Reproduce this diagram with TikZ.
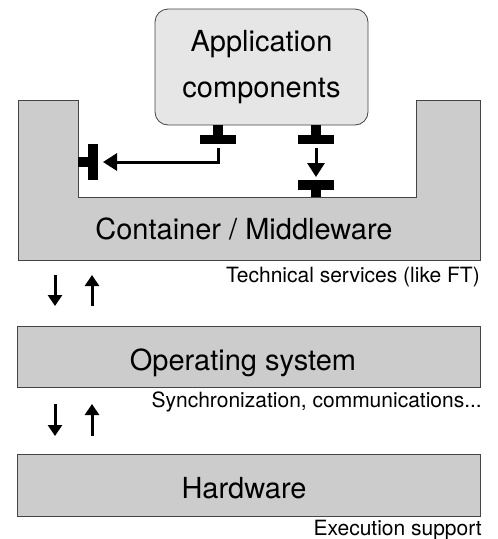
\documentclass[tikz,border=0pt]{standalone}
\usepackage{fontspec}
\setmainfont{TeX Gyre Heros}
\usetikzlibrary{arrows.meta}
\definecolor{layergray}{HTML}{CCCCCC}
\definecolor{appgray}{HTML}{E6E6E6}
\definecolor{rimgray}{HTML}{444444}
\tikzset{
  layer/.style={draw=rimgray, fill=layergray, line width=0.8pt, minimum width=463pt, inner sep=0pt},
  bigtext/.style={font=\fontsize{29}{46}\selectfont},
  smalltext/.style={font=\fontsize{21}{25}\selectfont, anchor=base east, inner sep=0pt},
  portbar/.style={fill=black, inner sep=0pt, outer sep=0pt},
  call/.style={line width=3pt, -{Triangle[length=14pt,width=17pt]}},
  updown/.style={line width=3pt, -{Triangle[length=11pt,width=14pt]}}
}

\begin{document}
\begin{tikzpicture}[x=1pt, y=-1pt]
  \useasboundingbox (0,0) rectangle (498,539);
  \filldraw[draw=rimgray, fill=layergray, line width=0.8pt]
    (18,100) -- (78,100) -- (78,197) -- (416,197) -- (416,100) -- (480,100) -- (480,260) -- (18,260) -- cycle;
  \node[bigtext, anchor=base] (mwtext) at (244,239) {Container / Middleware};
  \node[smalltext] (mwnote) at (480,282) {Technical services (like FT)};

  \node[draw=rimgray, fill=appgray, rounded corners=13pt, line width=0.8pt, minimum width=213pt, minimum height=116pt, align=center, bigtext] (app) at (261.5,67) {Application\\components};

  \node[portbar, minimum width=10pt, minimum height=10pt] (pastem) at (218,130) {};
  \node[portbar, minimum width=36pt, minimum height=9pt] (pa) at (218,139.5) {};
  \node[portbar, minimum width=10pt, minimum height=10pt] (pbstem) at (316,130) {};
  \node[portbar, minimum width=36pt, minimum height=9pt] (pb) at (316,139.5) {};
  \node[portbar, minimum width=36pt, minimum height=10pt] (pc) at (316,185) {};
  \node[portbar, minimum width=10pt, minimum height=7pt] (pcstem) at (316,193.5) {};
  \node[portbar, minimum width=10pt, minimum height=10pt] (pwstem) at (83,162) {};
  \node[portbar, minimum width=10pt, minimum height=36pt] (pw) at (93,162) {};

  \draw[call, shorten <=4pt, shorten >=5pt] (pa.south) |- (pw.east);
  \draw[call, shorten <=4pt, shorten >=3pt] (pb.south) -- (pc.north);

  \node[layer, minimum height=61pt] (os) at (249,356.5) {};
  \node[bigtext, anchor=base] (ostext) at (243,370) {Operating system};
  \node[smalltext] (osnote) at (482,407) {Synchronization, communications...};

  \node[layer, minimum height=62pt] (hw) at (249,485) {};
  \node[bigtext, anchor=base] (hwtext) at (244,498) {Hardware};
  \node[smalltext] (hwnote) at (482,535) {Execution support};

  \coordinate (dnA) at (55,275);
  \coordinate (dnB) at (55,306);
  \coordinate (upA) at (92,275);
  \coordinate (upB) at (92,306);
  \coordinate (dnC) at (55,404);
  \coordinate (dnD) at (55,436);
  \coordinate (upC) at (92,404);
  \coordinate (upD) at (92,436);
  \draw[updown] (dnA) -- (dnB);
  \draw[updown] (upB) -- (upA);
  \draw[updown] (dnC) -- (dnD);
  \draw[updown] (upD) -- (upC);
\end{tikzpicture}
\end{document}
